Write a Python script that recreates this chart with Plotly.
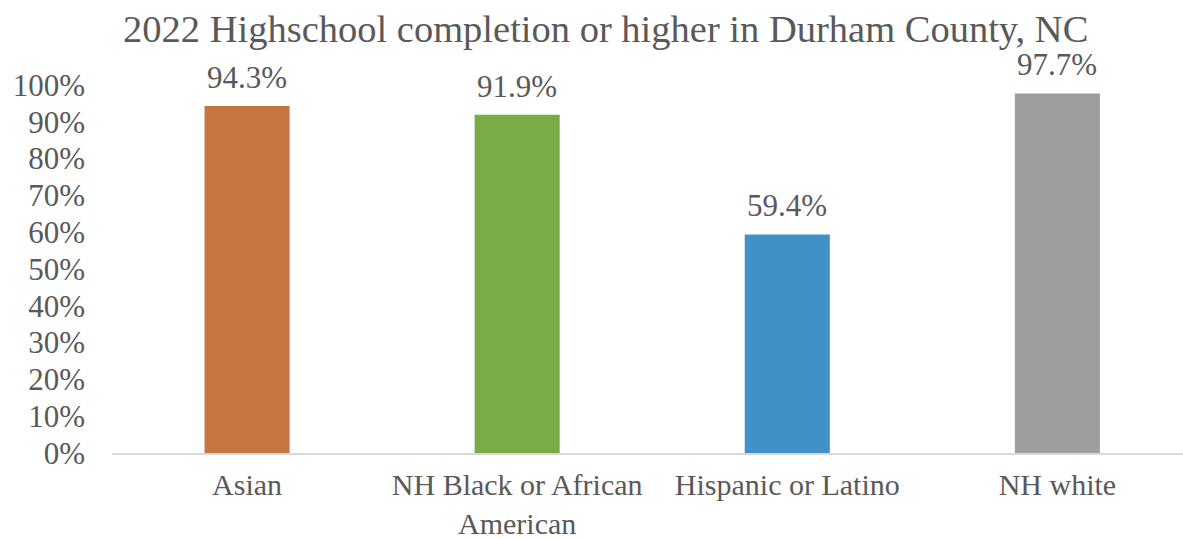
import plotly.graph_objects as go

categories = ["Asian", "NH Black or African<br>American", "Hispanic or Latino", "NH white"]
values = [94.3, 91.9, 59.4, 97.7]
labels = ["94.3%", "91.9%", "59.4%", "97.7%"]
colors = ["#C47540", "#7AAB44", "#4191C8", "#9E9E9E"]
yticks = list(range(0, 101, 10))
yticktext = [f"{v}%" for v in yticks]

FONT = "Liberation Serif, Times New Roman, serif"
GRAY = "#595959"

fig = go.Figure()
fig.add_trace(go.Bar(
    x=categories, y=values, marker=dict(color=colors, line=dict(width=0)),
    width=0.315, hoverinfo="skip",
))
for c, v, t in zip(categories, values, labels):
    fig.add_annotation(x=c, y=v, text=t, showarrow=False, yanchor="bottom",
                       yshift=9, font=dict(family=FONT, size=31, color=GRAY))

fig.update_layout(
    width=1183, height=539,
    margin=dict(l=112, r=0, t=85, b=86, autoexpand=False),
    paper_bgcolor="white", plot_bgcolor="white",
    title=dict(text="2022 Highschool completion or higher in Durham County, NC",
               x=0.512, xanchor="center", y=0.972, yanchor="top",
               font=dict(family=FONT, size=38.5, color=GRAY)),
    showlegend=False,
    font=dict(family=FONT, size=31, color=GRAY),
)
fig.update_xaxes(range=[-0.5, 3.465], showline=True, linecolor="#D9D9D9", linewidth=2,
                 ticks="", showgrid=False, ticklabelstandoff=4, automargin=False,
                 tickfont=dict(family=FONT, size=30, color=GRAY))
fig.update_yaxes(range=[0, 100], showgrid=False, zeroline=False, showline=False,
                 tickvals=yticks, ticktext=yticktext, ticklabelstandoff=26, automargin=False,
                 tickfont=dict(family=FONT, size=31, color=GRAY))

fig.write_html("out.html", config={"displayModeBar": False},
               post_script="document.body.style.margin='0';document.body.style.overflow='hidden';")
